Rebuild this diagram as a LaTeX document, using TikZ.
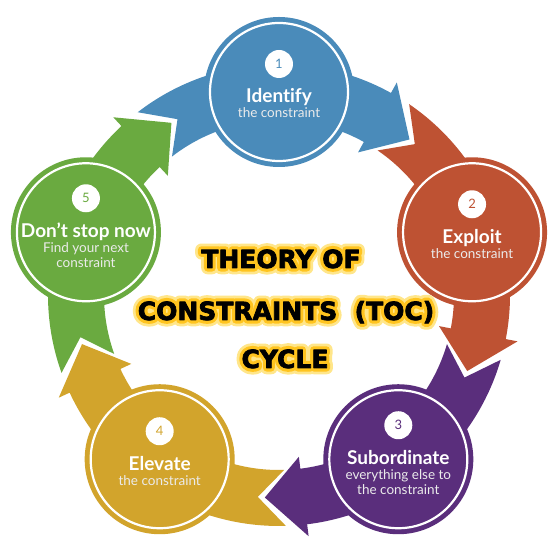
\documentclass[tikz,border=0pt]{standalone}
\usepackage{fontspec}
\setmainfont{Lato}[Ligatures={NoCommon}]
\newfontfamily\heavyfont{DejaVu Sans Bold}[FakeBold=3]
\newfontfamily\glowoutfont{DejaVu Sans Bold}[FakeBold=50]
\newfontfamily\glowmidfont{DejaVu Sans Bold}[FakeBold=28]
\definecolor{cblue}{HTML}{4A8BBA}
\definecolor{cred}{HTML}{BE5233}
\definecolor{cpurple}{HTML}{5A2E7C}
\definecolor{cgold}{HTML}{D2A42C}
\definecolor{cgreen}{HTML}{6AAA40}
\definecolor{glowout}{HTML}{FFE68A}
\definecolor{glowmid}{HTML}{FFC41F}
\tikzset{
  stepcircle/.style={circle, minimum size=150pt, inner sep=0pt},
  badge/.style={circle, fill=white, minimum size=28pt, inner sep=0pt, font=\fontsize{13}{13}\selectfont},
  titletext/.style={anchor=base, text=white, inner sep=0pt, font=\fontsize{19}{19}\selectfont\bfseries},
  subtext/.style={anchor=base, text=white!92!black, inner sep=0pt, font=\fontsize{13.5}{13.5}\selectfont},
  bigtitle/.style={anchor=base, inner sep=0pt, font=\heavyfont\fontsize{25}{25}\selectfont},
  glowa/.style={anchor=base, inner sep=0pt, text=glowout, font=\glowoutfont\fontsize{25}{25}\selectfont},
  glowb/.style={anchor=base, inner sep=0pt, text=glowmid, font=\glowmidfont\fontsize{25}{25}\selectfont}
}
\begin{document}
\begin{tikzpicture}[x=1pt,y=1pt]
\useasboundingbox (-279,-253) rectangle (281,295);
\fill[white] (-279,-253) rectangle (281,295);
% bands with tails and arrowheads
\foreach \t/\c in {90/cblue, 18/cred, -54/cpurple, -126/cgold, 162/cgreen}{
  \fill[\c] (\t+37.7:231) arc[start angle=\t+37.7, end angle=\t-29, radius=231]
    -- (\t-29:243) -- (\t-40:203) -- (\t-29:163) -- (\t-29:175)
    arc[start angle=\t-29, end angle=\t+37.7, radius=175]
    -- (\t+30:203) -- cycle;
}
% circles
\foreach \i/\t/\c in {1/90/cblue, 2/18/cred, 3/-54/cpurple, 4/-126/cgold, 5/162/cgreen}{
  \node[stepcircle, fill=\c] (c\i) at (\t:203) {};
  \draw[white, line width=2.2pt] (c\i.center) circle[radius=69];
}
% two-line circles
\foreach \i/\c/\ti in {1/cblue/Identify, 2/cred/Exploit, 4/cgold/Elevate}{
  \node[badge, text=\c] (b\i) at ([yshift=28]c\i.center) {\i};
  \node[titletext] (t\i) at ([yshift=-11]c\i.center) {\ti};
  \node[subtext] (s\i) at ([yshift=-26]c\i.center) {the constraint};
}
% three-line circles
\node[badge, text=cpurple] (b3) at ([yshift=34]c3.center) {3};
\node[titletext] (t3) at ([yshift=-5]c3.center) {Subordinate};
\node[subtext] (s3) at ([yshift=-20.5]c3.center) {everything else to};
\node[subtext] (u3) at ([yshift=-35]c3.center) {the constraint};
\node[badge, text=cgreen] (b5) at ([yshift=34]c5.center) {5};
\node[titletext] (t5) at ([yshift=-5]c5.center) {Don't stop now};
\node[subtext] (s5) at ([yshift=-20.5]c5.center) {Find your next};
\node[subtext] (u5) at ([yshift=-35]c5.center) {constraint};
% centre title with glow
\begin{scope}[line join=round, line cap=round]
\foreach \k/\x/\y/\txt in {1/2/27/THEORY OF, 2/7/-25/CONSTRAINTS\ \ (TOC), 3/6/-73/CYCLE}{
  \node[glowa] (ga\k) at (\x,\y) {\txt};
  \node[glowb] (gb\k) at (\x,\y) {\txt};
  \node[bigtitle, text=black] (h\k) at (\x,\y) {\txt};
}
\end{scope}
\end{tikzpicture}
\end{document}
